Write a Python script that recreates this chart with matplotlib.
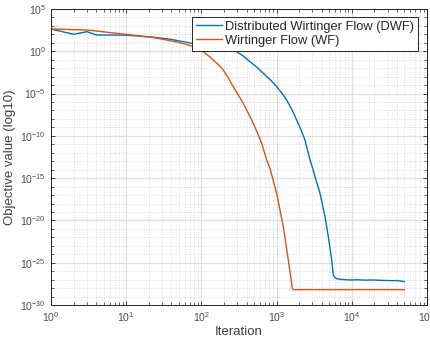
import numpy as np
import matplotlib.pyplot as plt
from matplotlib.ticker import LogLocator, NullFormatter

plt.rcParams['font.family'] = ['Liberation Sans', 'DejaVu Sans']
plt.rcParams['mathtext.fontset'] = 'custom'
plt.rcParams['mathtext.rm'] = 'Liberation Sans'
plt.rcParams['mathtext.default'] = 'regular'

# Data (objective values as log10)
dwf_iter = [1, 2, 3, 4, 5, 7, 10, 15, 24, 40, 75, 120, 150, 200, 250, 295, 360,
            443, 550, 665, 820, 1003, 1180, 1362, 1600, 1850, 2100, 2388, 2780,
            3020, 3243, 3777, 4405, 4875, 5404, 5675, 5980, 6300, 6966, 8000,
            9460, 12000, 15000, 19000, 25000, 30000, 35000, 40000, 42000, 44000,
            46000, 48000, 50000]
dwf_log = [2.635, 2.01, 2.32, 1.93, 1.92, 1.92, 1.90, 1.80, 1.65, 1.40, 0.94, 0.65,
           0.52, 0.32, 0.13, -0.05, -0.55, -1.23, -1.90, -2.60, -3.35, -4.19,
           -4.95, -5.76, -6.90, -8.13, -9.25, -10.49, -12.85, -13.84, -14.83,
           -16.79, -19.56, -21.92, -24.68, -26.45, -26.77, -26.88, -26.96, -27.00,
           -27.04, -27.02, -27.06, -27.04, -27.09, -27.10, -27.12, -27.10, -27.15,
           -27.13, -27.20, -27.18, -27.26]

wf_iter = [1, 3, 10, 24, 50, 75, 90, 106, 125, 144, 170, 195, 230, 265, 310, 360,
           420, 490, 560, 634, 738, 817, 1003, 1227, 1432, 1618, 1660, 50000]
wf_log = [2.635, 2.52, 2.0, 1.6, 1.05, 0.62, 0.33, -0.05, -0.55, -1.03, -1.62,
          -2.21, -3.20, -4.19, -5.17, -6.15, -7.30, -8.52, -9.70, -10.88,
          -12.85, -13.84, -16.79, -20.74, -24.68, -28.03, -28.18, -28.18]

fig = plt.figure(figsize=(4.31, 3.40), dpi=100)
ax = fig.add_axes([0.1183, 0.1029, 0.8724, 0.8706])

ax.loglog(dwf_iter, 10.0 ** np.array(dwf_log), color='#0072BD', lw=1.0,
          label='Distributed Wirtinger Flow (DWF)')
ax.loglog(wf_iter, 10.0 ** np.array(wf_log), color='#D95319', lw=1.0,
          label='Wirtinger Flow (WF)')

ax.set_xlim(1, 1e5)
ax.set_ylim(1e-30, 1e5)
ax.xaxis.set_major_locator(LogLocator(base=10, numticks=10))
ax.xaxis.set_minor_locator(LogLocator(base=10, subs=np.arange(2, 10), numticks=20))
ax.set_yticks([10.0 ** k for k in range(-30, 6, 5)])
ax.set_yticks([10.0 ** k for k in range(-30, 6)], minor=True)
ax.yaxis.set_minor_formatter(NullFormatter())
ax.xaxis.set_minor_formatter(NullFormatter())

ax.grid(True, which='major', color='#e0e0e0', lw=0.9, ls='-')
ax.grid(True, which='minor', color='#d0d0d0', lw=0.6, ls=(0, (1, 2)))
ax.set_axisbelow(True)

for s in ax.spines.values():
    s.set_color('#262626')
    s.set_linewidth(0.7)
ax.tick_params(which='both', direction='in', top=True, right=True,
               colors='#262626', labelcolor='#4d4d4d', labelsize=7.5)
ax.tick_params(which='major', length=3, width=0.6)
ax.tick_params(which='minor', length=2, width=0.5)

ax.set_xlabel('Iteration', fontsize=9.5, color='#404040', labelpad=2)
ax.set_ylabel('Objective value (log10)', fontsize=9.5, color='#404040', labelpad=3)

leg = ax.legend(loc='upper right', bbox_to_anchor=(0.976, 0.973), fontsize=9.3,
                frameon=True, fancybox=False, handlelength=2.0,
                handletextpad=0.25, borderpad=0.3, labelspacing=0.15,
                borderaxespad=0.0)
leg.get_frame().set_edgecolor('#262626')
leg.get_frame().set_linewidth(0.7)
leg.get_frame().set_alpha(1.0)
for t in leg.get_texts():
    t.set_color('#262626')

fig.savefig('out.png', dpi=100)
